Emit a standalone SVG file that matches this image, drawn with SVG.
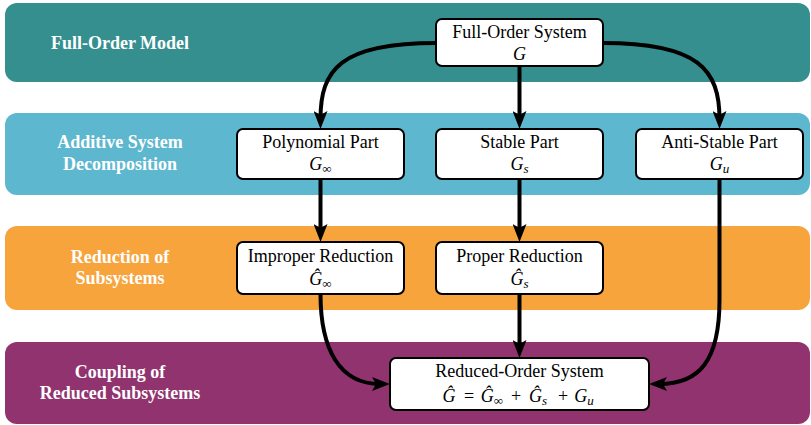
<svg xmlns="http://www.w3.org/2000/svg" width="811" height="425" viewBox="0 0 811 425">
  <style>
    text { font-family: "Liberation Serif", "DejaVu Serif", serif; }
    .band-label { font-weight: bold; font-size: 18px; fill: #ffffff; text-anchor: middle; }
    .box { fill: #ffffff; stroke: #000000; stroke-width: 2; }
    .lbl { font-size: 18px; fill: #000000; text-anchor: middle; }
    .it { font-style: italic; }
    .sub { font-size: 13px; }
    .edge { fill: none; stroke: #000000; stroke-width: 4; }
  </style>
  <defs>
    <marker id="arrow" markerUnits="userSpaceOnUse" viewBox="0 0 18 14" refX="8" refY="7" markerWidth="18" markerHeight="14" orient="auto">
      <path d="M0,0 L18,7 L0,14 L4,7 Z" fill="#000000"/>
    </marker>
  </defs>

  <!-- stage bands -->
  <g id="bands">
    <rect x="5" y="3" width="805" height="79" rx="12" fill="#368F8F"/>
    <rect x="5" y="113" width="805" height="82" rx="12" fill="#5DB7CF"/>
    <rect x="5" y="226" width="805" height="84" rx="12" fill="#F7A43D"/>
    <rect x="5" y="342" width="805" height="82" rx="12" fill="#91336E"/>
    <text class="band-label" x="120" y="49">Full-Order Model</text>
    <text class="band-label" x="120" y="148">Additive System</text>
    <text class="band-label" x="120" y="170">Decomposition</text>
    <text class="band-label" x="120" y="263">Reduction of</text>
    <text class="band-label" x="120" y="284">Subsystems</text>
    <text class="band-label" x="120" y="378">Coupling of</text>
    <text class="band-label" x="120" y="399">Reduced Subsystems</text>
  </g>

  <!-- connectors -->
  <g id="connectors">
    <path class="edge" d="M436,43 C340,43 320.5,70 320.5,119" marker-end="url(#arrow)"/>
    <path class="edge" d="M519.5,66 L519.5,119" marker-end="url(#arrow)"/>
    <path class="edge" d="M603,43 C699,43 719.5,70 719.5,119" marker-end="url(#arrow)"/>
    <path class="edge" d="M320.5,179 L320.5,232" marker-end="url(#arrow)"/>
    <path class="edge" d="M519.5,179 L519.5,232" marker-end="url(#arrow)"/>
    <path class="edge" d="M519.5,294 L519.5,348" marker-end="url(#arrow)"/>
    <path class="edge" d="M320.5,294 C320.5,350 340,384 380,384" marker-end="url(#arrow)"/>
    <path class="edge" d="M719.5,179 L719.5,300 C719.5,360 700,384 659,384" marker-end="url(#arrow)"/>
  </g>

  <g id="full-order-system">
    <rect class="box" x="436" y="19" width="167" height="47" rx="6"/>
    <text class="lbl" x="519.5" y="38">Full-Order System</text>
    <text class="lbl it" x="519.5" y="60">G</text>
  </g>

  <g id="polynomial-part">
    <rect class="box" x="237" y="129" width="167" height="50" rx="6"/>
    <text class="lbl" x="320.5" y="148">Polynomial Part</text>
    <text class="lbl" x="320.5" y="170"><tspan class="it">G</tspan><tspan class="sub" dy="3">∞</tspan></text>
  </g>

  <g id="stable-part">
    <rect class="box" x="436" y="129" width="167" height="50" rx="6"/>
    <text class="lbl" x="519.5" y="148">Stable Part</text>
    <text class="lbl" x="519.5" y="170"><tspan class="it">G</tspan><tspan class="sub it" dy="3">s</tspan></text>
  </g>

  <g id="anti-stable-part">
    <rect class="box" x="636" y="129" width="167" height="50" rx="6"/>
    <text class="lbl" x="719.5" y="148">Anti-Stable Part</text>
    <text class="lbl" x="719.5" y="170"><tspan class="it">G</tspan><tspan class="sub it" dy="3">u</tspan></text>
  </g>

  <g id="improper-reduction">
    <rect class="box" x="237" y="242" width="167" height="52" rx="6"/>
    <text class="lbl" x="320.5" y="262">Improper Reduction</text>
    <text class="lbl" x="320.5" y="285"><tspan class="it">Ĝ</tspan><tspan class="sub" dy="3">∞</tspan></text>
  </g>

  <g id="proper-reduction">
    <rect class="box" x="436" y="242" width="167" height="52" rx="6"/>
    <text class="lbl" x="519.5" y="262">Proper Reduction</text>
    <text class="lbl" x="519.5" y="285"><tspan class="it">Ĝ</tspan><tspan class="sub it" dy="3">s</tspan></text>
  </g>

  <g id="reduced-order-system">
    <rect class="box" x="390" y="358" width="259" height="52" rx="6"/>
    <text class="lbl" x="519.5" y="377">Reduced-Order System</text>
    <text class="lbl"><tspan class="it" x="449" y="402">Ĝ</tspan><tspan x="469" y="402">=</tspan><tspan x="492" y="402"><tspan class="it">Ĝ</tspan><tspan class="sub" dy="3">∞</tspan></tspan><tspan x="516" y="402">+</tspan><tspan x="538" y="402"><tspan class="it">Ĝ</tspan><tspan class="sub it" dy="3">s</tspan></tspan><tspan x="563" y="402">+</tspan><tspan x="584" y="402"><tspan class="it">G</tspan><tspan class="sub it" dy="3">u</tspan></tspan></text>
  </g>
</svg>
